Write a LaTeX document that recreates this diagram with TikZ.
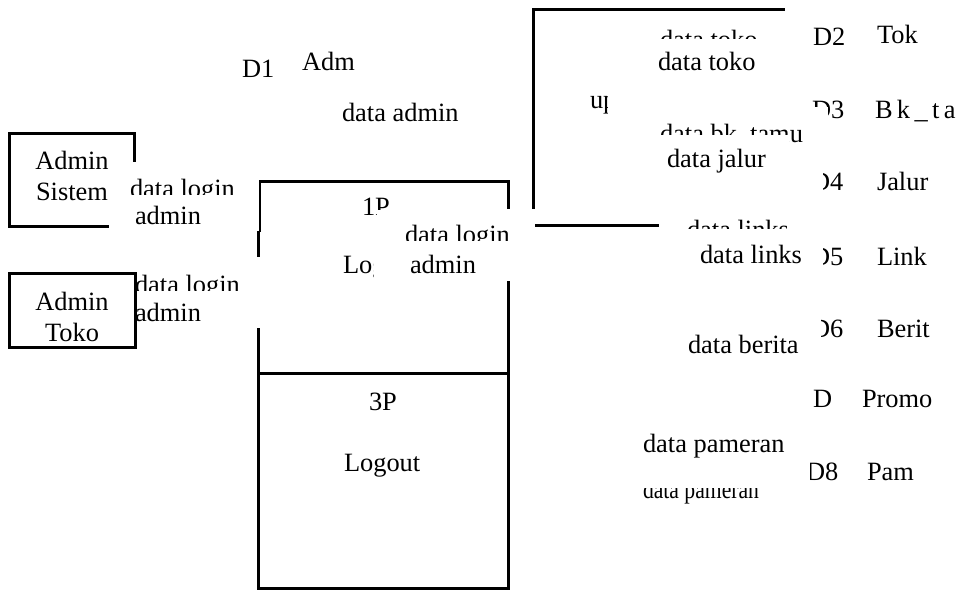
\documentclass[tikz,border=0pt]{standalone}
\usepackage{fontspec}
\setmainfont{Liberation Serif}
\begin{document}
\begin{tikzpicture}[x=0.5pt,y=-0.5pt,
  lbl/.style={anchor=base west,inner sep=0pt,outer sep=0pt,font=\fontsize{13.2}{15}\selectfont},
  lblc/.style={lbl,anchor=base},
  edge/.style={line width=1.5pt,line cap=rect},
  thinedge/.style={line width=0.6pt}]
\useasboundingbox (0,0) rectangle (960,590);

% ---- boxes ----
% Admin Sistem
\draw[edge] (134,160) -- (134,133) -- (9,133) -- (9,226) -- (107,226);
% Admin Toko
\draw[edge] (9,273) rectangle (135,347);
% process box
\draw[edge] (260,181) -- (508,181) -- (508,207);
\draw[thinedge] (260,181) -- (260,232);
\draw[edge] (258,232) -- (258,255);
\draw[edge] (258,329) -- (258,588) -- (508,588) -- (508,282);
\draw[edge] (258,373) -- (508,373);
% top-right box
\draw[edge] (783,9) -- (533,9) -- (533,207);
\draw[edge] (536,225) -- (657,225);

% ---- texts ----
\node[lbl] (d1) at (242,77) {D1};
\node[lbl] (adm) at (302,70) {Adm};
\node[lbl] (dadmin) at (342,121) {data admin};

\node[lblc] (as1) at (72,169) {Admin};
\node[lblc] (as2) at (72,200) {Sistem};
\begin{scope}
  \clip (120,170) rectangle (245,194);
  \node[lbl] (dl1) at (130,197) {data login};
\end{scope}
\node[lbl] (ad1) at (135,224) {admin};

\node[lblc] (at1) at (72,310) {Admin};
\node[lblc] (at2) at (72,341) {Toko};
\begin{scope}
  \clip (136,265) rectangle (245,290);
  \node[lbl] (dl2) at (135,293) {data login};
\end{scope}
\node[lbl] (ad2) at (135,321) {admin};

\begin{scope}
  \clip (355,190) rectangle (376,222) (376,190) rectangle (400,209);
  \node[lbl] (p1) at (362,215) {1P};
\end{scope}
\begin{scope}
  \clip (330,250) rectangle (373,285);
  \node[lbl] (login) at (343,273) {Login};
\end{scope}
\begin{scope}
  \clip (400,220) rectangle (515,240);
  \node[lbl] (dl3) at (405,243) {data login};
\end{scope}
\node[lbl] (ad3) at (410,273) {admin};

\node[lbl] (p3) at (369,410) {3P};
\node[lbl] (logout) at (344,471) {Logout};

% right side labels
\begin{scope}
  \clip (650,20) rectangle (780,38);
  \node[lbl] (dt1) at (660,48) {data toko};
\end{scope}
\node[lbl] (dt2) at (658,70) {data toko};
\begin{scope}
  \clip (580,85) rectangle (607,120);
  \node[lbl] (upd) at (590,108) {update};
\end{scope}
\begin{scope}
  \clip (650,115) rectangle (789,134) (789,115) rectangle (830,150);
  \node[lbl] (dbk) at (660,142) {data bk\_tamu};
\end{scope}
\node[lbl] (dj) at (667,167) {data jalur};
\begin{scope}
  \clip (680,215) rectangle (800,228);
  \node[lbl] (dlk1) at (687,238) {data links};
\end{scope}
\node[lbl] (dlk2) at (700,263) {data links};
\node[lbl] (dber) at (688,353) {data berita};
\node[lbl] (dpam1) at (643,452) {data pameran};
\begin{scope}
  \clip (643,488) rectangle (800,510);
  \node[lbl] (dpam2) at (643,498) {\scalebox{0.82}[1]{data pameran}};
\end{scope}

% data stores
\node[lbl] (d2) at (813,45) {D2};
\node[lbl] (tok) at (877,43) {Tok};
\begin{scope}
  \clip (800,90) rectangle (828,106) (828,90) rectangle (860,125);
  \node[lbl] (d3) at (812,118) {D3};
\end{scope}
\node[lbl] (bk) at (875,118) {B\kern2.2pt k\kern2.2pt\_\kern2.2pt t\kern2.2pt a};
\begin{scope}
  \clip (823,165) rectangle (860,200);
  \node[lbl] (d4) at (811,190) {D4};
\end{scope}
\node[lbl] (jalur) at (877,190) {Jalur};
\begin{scope}
  \clip (823,240) rectangle (860,275);
  \node[lbl] (d5) at (811,265) {D5};
\end{scope}
\node[lbl] (link) at (877,265) {Link};
\begin{scope}
  \clip (821,312) rectangle (860,347);
  \node[lbl] (d6) at (811,337) {D6};
\end{scope}
\node[lbl] (berit) at (877,337) {Berit};
\begin{scope}
  \clip (800,382) rectangle (832,417);
  \node[lbl] (d7) at (813,407) {D7};
\end{scope}
\node[lbl] (promo) at (862,407) {Promo};
\begin{scope}
  \clip (810,455) rectangle (860,490);
  \node[lbl] (d8) at (806,480) {D8};
\end{scope}
\node[lbl] (pam) at (867,480) {Pam};
\end{tikzpicture}
\end{document}
